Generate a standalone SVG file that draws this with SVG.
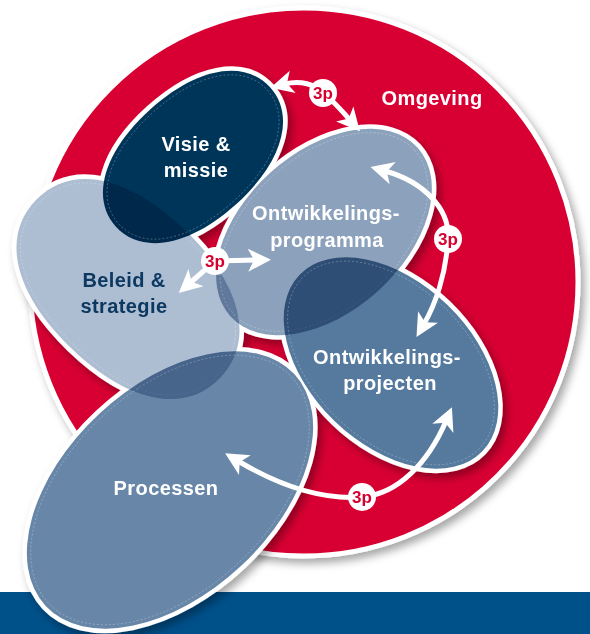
<svg xmlns="http://www.w3.org/2000/svg" xmlns:xlink="http://www.w3.org/1999/xlink" width="590" height="634" viewBox="0 0 590 634">
<style>
  .lbl { font-family: "Liberation Sans", Arial, sans-serif; font-weight: bold; font-size: 20px; text-anchor: middle; letter-spacing: 0.4px; }
  .w { fill: #ffffff; }
  .dk { fill: #0d3961; }
  .outline use { fill: #ffffff; stroke: #ffffff; stroke-width: 9; }
  .fill { mix-blend-mode: multiply; }
  .inner { fill: none; stroke: #ffffff; stroke-opacity: 0.35; stroke-width: 0.7; stroke-dasharray: 2 2; }
  .arrow { fill: none; stroke: #ffffff; stroke-width: 5; marker-start: url(#head); marker-end: url(#head); }
  .badge circle { fill: #ffffff; }
  .badge text { font-family: "Liberation Sans", Arial, sans-serif; font-weight: bold; font-size: 17px; fill: #d6002f; text-anchor: middle; }
</style>
<defs>
  <filter id="shadow" x="-20%" y="-20%" width="140%" height="140%">
    <feDropShadow dx="4" dy="5" stdDeviation="4" flood-color="#000000" flood-opacity="0.35"/>
  </filter>
  <marker id="head" viewBox="-10 -12 26 24" refX="0" refY="0" markerWidth="26" markerHeight="24" markerUnits="userSpaceOnUse" orient="auto-start-reverse">
    <path d="M15,0 L-8,-11.5 L-2,0 L-8,11.5 Z" fill="#ffffff"/>
  </marker>
  <path id="s-beleid" transform="translate(128 289) rotate(44)" d="M128,0 C128,50.8 79.4,82 0,82 C-79.4,82 -128,50.8 -128,0 C-128,-50.8 -79.4,-82 0,-82 C79.4,-82 128,-50.8 128,0 Z"/>
  <path id="s-visie" transform="translate(193 157) rotate(-42)" d="M104,0 C104,38.4 62.4,64 0,64 C-62.4,64 -104,38.4 -104,0 C-104,-38.4 -62.4,-64 0,-64 C62.4,-64 104,-38.4 104,0 Z"/>
  <ellipse id="s-programma" cx="324" cy="232" rx="126" ry="80" transform="rotate(-42 324 232)"/>
  <ellipse id="s-projecten" cx="391" cy="363" rx="127" ry="81" transform="rotate(44 391 363)"/>
  <ellipse id="s-processen" cx="170" cy="490" rx="170" ry="104" transform="rotate(-43 170 490)"/>
</defs>

<rect x="0" y="592" width="590" height="42" fill="#00508a"/>

<g id="omgeving">
  <circle cx="304" cy="282" r="274" fill="#d80030" stroke="#ffffff" stroke-width="5" filter="url(#shadow)"/>
  <text class="lbl w" x="432" y="105">Omgeving</text>
</g>

<g class="outline" filter="url(#shadow)">
  <use xlink:href="#s-beleid"/>
  <use xlink:href="#s-visie"/>
  <use xlink:href="#s-programma"/>
  <use xlink:href="#s-projecten"/>
  <use xlink:href="#s-processen"/>
</g>

<g style="isolation:isolate">
  <g id="beleid">
    <use class="fill" xlink:href="#s-beleid" fill="#adbdd2"/>
    <path class="inner" transform="translate(128 289) rotate(44)" d="M124,0 C124,48.4 76.9,78 0,78 C-76.9,78 -124,48.4 -124,0 C-124,-48.4 -76.9,-78 0,-78 C76.9,-78 124,-48.4 124,0 Z"/>
    <text class="lbl dk" x="124" y="287">Beleid &amp;</text>
    <text class="lbl dk" x="124" y="313">strategie</text>
  </g>
  <g id="visie">
    <use class="fill" xlink:href="#s-visie" fill="#00355a"/>
    <path class="inner" transform="translate(193 157) rotate(-42)" d="M100,0 C100,36 60,60 0,60 C-60,60 -100,36 -100,0 C-100,-36 -60,-60 0,-60 C60,-60 100,-36 100,0 Z"/>
    <text class="lbl w" x="196" y="151">Visie &amp;</text>
    <text class="lbl w" x="196" y="177">missie</text>
  </g>
  <g id="programma">
    <use class="fill" xlink:href="#s-programma" fill="#8ca2bc"/>
    <ellipse class="inner" cx="324" cy="232" rx="122" ry="76" transform="rotate(-42 324 232)"/>
    <text class="lbl w" x="326" y="220">Ontwikkelings-</text>
    <text class="lbl w" x="327" y="247">programma</text>
  </g>
  <g id="projecten">
    <use class="fill" xlink:href="#s-projecten" fill="#557a9e"/>
    <ellipse class="inner" cx="391" cy="363" rx="123" ry="77" transform="rotate(44 391 363)"/>
    <text class="lbl w" x="387" y="364">Ontwikkelings-</text>
    <text class="lbl w" x="390" y="390">projecten</text>
  </g>
  <g id="processen">
    <use class="fill" xlink:href="#s-processen" fill="#6887a8"/>
    <ellipse class="inner" cx="170" cy="490" rx="166" ry="100" transform="rotate(-43 170 490)"/>
    <text class="lbl w" x="166" y="495">Processen</text>
  </g>
</g>

<g id="connectors">
  <path class="arrow" d="M 285,84 C 300,80 315,84 325,94 C 336,104 343,112 350,120"/>
  <path class="arrow" d="M 385,171 C 425,182 450,210 448,239 C 446,275 435,305 424,324"/>
  <path class="arrow" d="M 256,260 L 215,261 L 190,283"/>
  <path class="arrow" d="M 238,461 C 280,486 322,500 362,497 C 398,494 428,463 446,421"/>
  <g class="badge"><circle cx="323" cy="93" r="14"/><text x="323" y="99">3p</text></g>
  <g class="badge"><circle cx="448" cy="239" r="14"/><text x="448" y="245">3p</text></g>
  <g class="badge"><circle cx="215" cy="261" r="14"/><text x="215" y="267">3p</text></g>
  <g class="badge"><circle cx="362" cy="497" r="14"/><text x="362" y="503">3p</text></g>
</g>
</svg>
